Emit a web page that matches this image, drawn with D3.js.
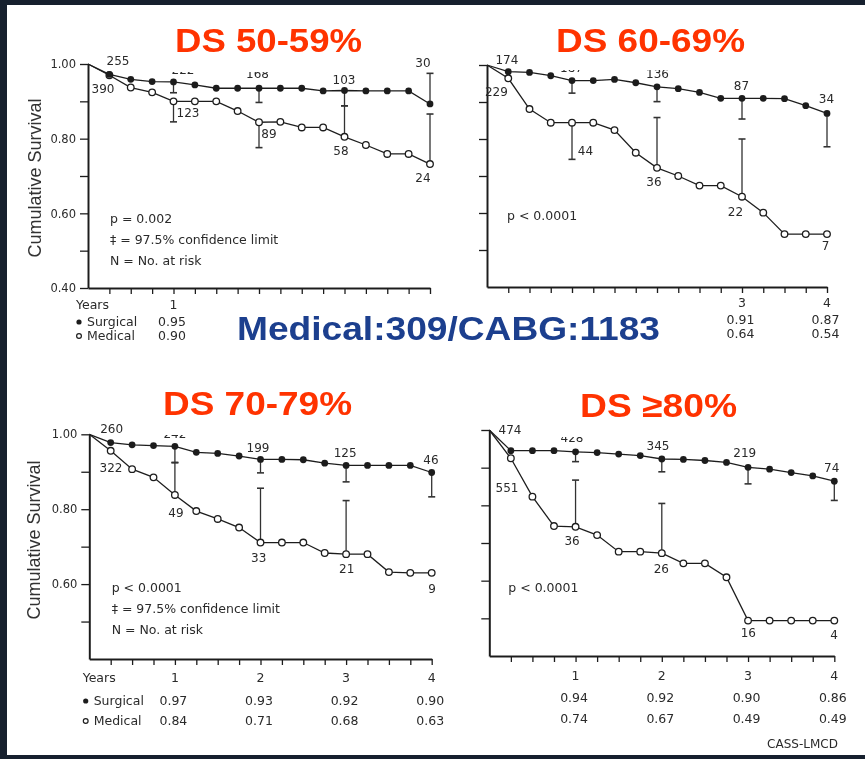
<!DOCTYPE html>
<html>
<head>
<meta charset="utf-8">
<script src="https://cdn.jsdelivr.net/npm/d3@7"></script>
<style>
  html, body { margin: 0; padding: 0; background: #16202e; }
  svg { display: block; }
</style>
</head>
<body>
<svg id="chart" width="865" height="759"></svg>
<script>
// Follow-up times in years (quarterly)
const times = [0.25, 0.5, 0.75, 1, 1.25, 1.5, 1.75, 2, 2.25, 2.5, 2.75, 3, 3.25, 3.5, 3.75, 4];

// Cumulative survival, DS 50-59%
const ds50Surgical = [0.972, 0.959, 0.953, 0.952, 0.944, 0.935, 0.935, 0.935, 0.935, 0.935, 0.928, 0.929, 0.928, 0.928, 0.928, 0.893];
const ds50Medical  = [0.970, 0.937, 0.924, 0.900, 0.900, 0.900, 0.874, 0.844, 0.845, 0.830, 0.830, 0.805, 0.783, 0.759, 0.759, 0.732];
// Cumulative survival, DS 60-69%
const ds60Surgical = [0.982, 0.980, 0.971, 0.958, 0.958, 0.961, 0.952, 0.941, 0.936, 0.926, 0.910, 0.910, 0.910, 0.909, 0.890, 0.869];
const ds60Medical  = [0.964, 0.881, 0.844, 0.844, 0.844, 0.824, 0.763, 0.722, 0.700, 0.674, 0.674, 0.644, 0.601, 0.543, 0.543, 0.543];
// Cumulative survival, DS 70-79%
const ds70Surgical = [0.978, 0.972, 0.970, 0.968, 0.952, 0.949, 0.942, 0.933, 0.933, 0.932, 0.923, 0.917, 0.917, 0.917, 0.917, 0.898];
const ds70Medical  = [0.956, 0.907, 0.885, 0.838, 0.795, 0.774, 0.751, 0.711, 0.711, 0.711, 0.683, 0.680, 0.680, 0.632, 0.630, 0.630];
// Cumulative survival, DS >= 80%
const ds80Surgical = [0.945, 0.945, 0.945, 0.942, 0.940, 0.936, 0.932, 0.923, 0.922, 0.919, 0.914, 0.901, 0.896, 0.887, 0.878, 0.864];
const ds80Medical  = [0.925, 0.823, 0.745, 0.743, 0.721, 0.677, 0.677, 0.673, 0.646, 0.646, 0.609, 0.494, 0.494, 0.494, 0.494, 0.494];

// 97.5% confidence limits: [year, series, limit]
const ds50Limits = [[1, "s", 0.923], [1, "m", 0.845], [2, "s", 0.897], [2, "m", 0.776], [3, "s", 0.888], [3, "m", 0.888], [4, "s", 0.975], [4, "m", 0.866]];
const ds60Limits = [[1, "s", 0.924], [1, "m", 0.745], [2, "s", 0.901], [2, "m", 0.858], [3, "s", 0.854], [3, "m", 0.800], [4, "s", 0.779]];
const ds70Limits = [[1, "s", 0.925], [1, "m", 0.924], [2, "s", 0.897], [2, "m", 0.856], [3, "s", 0.873], [3, "m", 0.823], [4, "s", 0.833]];
const ds80Limits = [[1, "s", 0.916], [1, "m", 0.867], [2, "s", 0.889], [2, "m", 0.805], [3, "s", 0.857], [4, "s", 0.813]];

// Number at risk: [count, series, year]
const ds50AtRisk = [["255", "s", 0.25], ["390", "m", 0.25], ["222", "s", 1], ["168", "s", 2], ["103", "s", 3], ["30", "s", 4], ["123", "m", 1], ["89", "m", 2], ["58", "m", 3], ["24", "m", 4]];
const ds60AtRisk = [["174", "s", 0.25], ["229", "m", 0.25], ["187", "s", 1], ["136", "s", 2], ["87", "s", 3], ["34", "s", 4], ["44", "m", 1], ["36", "m", 2], ["22", "m", 3], ["7", "m", 4]];
const ds70AtRisk = [["260", "s", 0.25], ["322", "m", 0.25], ["242", "s", 1], ["199", "s", 2], ["125", "s", 3], ["46", "s", 4], ["49", "m", 1], ["33", "m", 2], ["21", "m", 3], ["9", "m", 4]];
const ds80AtRisk = [["474", "s", 0], ["428", "s", 1], ["345", "s", 2], ["219", "s", 3], ["74", "s", 4], ["551", "m", 0.25], ["36", "m", 1], ["26", "m", 2], ["16", "m", 3], ["4", "m", 4]];

// Survival tables under each panel
const ds50TableYears = [1],          ds50TableSurgical = ["0.95"], ds50TableMedical = ["0.90"];
const ds60TableYears = [3, 4],       ds60TableSurgical = ["0.91", "0.87"], ds60TableMedical = ["0.64", "0.54"];
const ds70TableYears = [1, 2, 3, 4], ds70TableSurgical = ["0.97", "0.93", "0.92", "0.90"], ds70TableMedical = ["0.84", "0.71", "0.68", "0.63"];
const ds80TableYears = [1, 2, 3, 4], ds80TableSurgical = ["0.94", "0.92", "0.90", "0.86"], ds80TableMedical = ["0.74", "0.67", "0.49", "0.49"];

const titles = ["DS 50-59%", "DS 60-69%", "DS 70-79%", "DS \u226580%"];
const notes = [
  ["p = 0.002", "\u2021 = 97.5% confidence limit", "N = No. at risk"],
  ["p < 0.0001"],
  ["p < 0.0001", "\u2021 = 97.5% confidence limit", "N = No. at risk"],
  ["p < 0.0001"]
];
const yTickValues = [0.5, 0.6, 0.7, 0.8, 0.9, 1.0];
const yLabelValues = [1.0, 0.8, 0.6, 0.4];
const headline = "Medical:309/CABG:1183";
const sourceNote = "CASS-LMCD";

const panels = [
  { surgical: ds50Surgical, medical: ds50Medical, limits: ds50Limits, atRisk: ds50AtRisk,
    tableYears: ds50TableYears, tableSurgical: ds50TableSurgical, tableMedical: ds50TableMedical },
  { surgical: ds60Surgical, medical: ds60Medical, limits: ds60Limits, atRisk: ds60AtRisk,
    tableYears: ds60TableYears, tableSurgical: ds60TableSurgical, tableMedical: ds60TableMedical },
  { surgical: ds70Surgical, medical: ds70Medical, limits: ds70Limits, atRisk: ds70AtRisk,
    tableYears: ds70TableYears, tableSurgical: ds70TableSurgical, tableMedical: ds70TableMedical },
  { surgical: ds80Surgical, medical: ds80Medical, limits: ds80Limits, atRisk: ds80AtRisk,
    tableYears: ds80TableYears, tableSurgical: ds80TableSurgical, tableMedical: ds80TableMedical }
];

// Layout of each panel (pixels)
const layout = [
  { x0: 88, x4: 430, yTop: 64, yBottom: 288, yLabels: true, show040: true, axisTitle: [41, 178],
    noteX: 110, noteY: 223, rowLabels: true, rowX: 76, yearsY: 309, surgY: 326, medY: 340,
    riskOffsets: [[8.6, -9.5], [-6.4, 17.5], [9.5, -8], [-1.5, -10.3], [-0.5, -6.2], [-7, -36.7], [14.5, 16], [10, 16.1], [-3.5, 18.2], [-7, 17.6]],
    title: { cx: 268.5, y: 52, w: 187, box: [165, 8, 208, 64] } },
  { x0: 487, x4: 827, yTop: 65, yBottom: 287, yLabels: false, show040: false,
    noteX: 507, noteY: 220, rowLabels: false, yearsY: 307, surgY: 324, medY: 338,
    riskOffsets: [[-1.3, -7.7], [-11.8, 17.7], [-0.5, -8.8], [0.5, -9.1], [-0.5, -8.3], [-0.5, -10.2], [13.5, 32.3], [-3, 17.8], [-6.5, 19.3], [-1.5, 15.9]],
    title: { cx: 650.5, y: 52, w: 189, box: [545, 8, 210, 62] } },
  { x0: 89.3, x4: 431.7, yTop: 434.3, yBottom: 659, yLabels: true, show040: false, axisTitle: [40, 540],
    noteX: 111.7, noteY: 592, rowLabels: true, rowX: 82.7, yearsY: 682, surgY: 705, medY: 725,
    riskOffsets: [[1, -9.8], [0.3, 20.9], [0, -8], [-2.5, -7.7], [-1, -8.7], [-0.7, -8.5], [1, 21.7], [-1.8, 19.2], [0.6, 18.6], [0.3, 19.8]],
    title: { cx: 257.5, y: 415, w: 189, box: [150, 372, 215, 63] } },
  { x0: 489.3, x4: 834.3, yTop: 430, yBottom: 656, yLabels: false, show040: false,
    noteX: 508.3, noteY: 592, rowLabels: false, yearsY: 680, surgY: 702, medY: 723,
    riskOffsets: [[20.7, 4.3], [-3.5, -10.1], [-3.8, -9], [-3.3, -10], [-2.6, -9.5], [-3.9, 33.5], [-3.5, 18.2], [-0.5, 19.5], [0.3, 16.7], [-0.3, 18.7]],
    title: { cx: 658.5, y: 417, w: 157, box: [555, 372, 195, 65] } }
];

const INK = "#1e1e1e";
const TEXT = "#2a2a2a";
const SMALL_FONT = "'DejaVu Sans', sans-serif";

const svg = d3.select("#chart");

// white slide area inside the dark frame
svg.append("rect").attr("x", 7).attr("y", 5).attr("width", 858).attr("height", 750).attr("fill", "#ffffff");

const defs = svg.append("defs");
defs.append("filter").attr("id", "soft").attr("x", "-5%").attr("y", "-5%").attr("width", "110%").attr("height", "110%")
  .append("feGaussianBlur").attr("stdDeviation", 0.4);

function drawPanel(p, L) {
  const g = svg.append("g").attr("filter", "url(#soft)");
  const x = d3.scaleLinear().domain([0, 4]).range([L.x0, L.x4]);
  const y = d3.scaleLinear().domain([0.4, 1]).range([L.yBottom, L.yTop]);
  const valueAt = (series, t) => t === 0 ? 1 : (series === "s" ? p.surgical : p.medical)[times.indexOf(t)];

  // y axis
  const ticks = L.show040 ? [0.4].concat(yTickValues) : yTickValues;
  const yAxis = g.append("g").attr("transform", `translate(${L.x0},0)`)
    .call(d3.axisLeft(y).tickValues(ticks).tickSize(8).tickSizeOuter(0).tickPadding(4)
      .tickFormat(v => L.yLabels && yLabelValues.some(u => Math.abs(u - v) < 1e-6) ? d3.format(".2f")(v) : ""));
  yAxis.select(".domain").attr("stroke", INK).attr("stroke-width", 2);
  yAxis.selectAll(".tick line").attr("stroke", INK).attr("stroke-width", 1.3);
  yAxis.selectAll(".tick text").attr("fill", TEXT).attr("font-family", SMALL_FONT).attr("font-size", 11.5);

  // x axis (quarter-year ticks)
  const xAxis = g.append("g").attr("transform", `translate(0,${L.yBottom})`)
    .call(d3.axisBottom(x).tickValues(times).tickSize(6).tickSizeOuter(0).tickFormat(""));
  xAxis.select(".domain").attr("stroke", INK).attr("stroke-width", 1.8);
  xAxis.selectAll(".tick line").attr("stroke", INK).attr("stroke-width", 1.3);

  // y axis title
  if (L.axisTitle) {
    g.append("text")
      .attr("transform", `translate(${L.axisTitle[0]},${L.axisTitle[1]}) rotate(-90)`)
      .attr("text-anchor", "middle")
      .attr("font-family", "'Liberation Sans', Arial, sans-serif")
      .attr("font-size", 18)
      .attr("fill", "#333")
      .text("Cumulative Survival");
  }

  // confidence limit bars
  p.limits.forEach(([t, s, lim]) => {
    const v = valueAt(s, t);
    g.append("line").attr("x1", x(t)).attr("x2", x(t)).attr("y1", y(v)).attr("y2", y(lim))
      .attr("stroke", "#333").attr("stroke-width", 1.3);
    g.append("line").attr("x1", x(t) - 3.5).attr("x2", x(t) + 3.5).attr("y1", y(lim)).attr("y2", y(lim))
      .attr("stroke", "#333").attr("stroke-width", 1.6);
  });

  // survival curves
  const line = d3.line().x(d => x(d[0])).y(d => y(d[1]));
  const pts = vals => [[0, 1]].concat(times.map((t, i) => [t, vals[i]]));
  g.append("path").datum(pts(p.medical)).attr("d", line).attr("fill", "none").attr("stroke", INK).attr("stroke-width", 1.3);
  g.append("path").datum(pts(p.surgical)).attr("d", line).attr("fill", "none").attr("stroke", INK).attr("stroke-width", 1.3);

  g.selectAll(".med").data(p.medical).join("circle")
    .attr("cx", (d, i) => x(times[i])).attr("cy", d => y(d)).attr("r", 3.3)
    .attr("fill", "#fff").attr("stroke", INK).attr("stroke-width", 1.3);
  g.selectAll(".surg").data(p.surgical).join("circle")
    .attr("cx", (d, i) => x(times[i])).attr("cy", d => y(d)).attr("r", 3.4)
    .attr("fill", INK);

  // numbers at risk
  p.atRisk.forEach(([n, s, t], i) => {
    const [dx, dy] = L.riskOffsets[i];
    g.append("text").attr("x", x(t) + dx).attr("y", y(valueAt(s, t)) + dy)
      .attr("text-anchor", "middle").attr("font-family", SMALL_FONT).attr("font-size", 12)
      .attr("fill", TEXT).text(n);
  });

  // notes
  g.selectAll(".note").data(notes[panels.indexOf(p)]).join("text")
    .attr("x", L.noteX).attr("y", (d, i) => L.noteY + i * 21)
    .attr("font-family", SMALL_FONT).attr("font-size", 12.5).attr("fill", TEXT)
    .text(d => d);

  // survival table
  const tableText = (tx, ty, s, anchor) => g.append("text").attr("x", tx).attr("y", ty)
    .attr("text-anchor", anchor || "middle").attr("font-family", SMALL_FONT).attr("font-size", 12.5)
    .attr("fill", TEXT).text(s);
  if (L.rowLabels) {
    tableText(L.rowX, L.yearsY, "Years", "start");
    g.append("circle").attr("cx", L.rowX + 3).attr("cy", L.surgY - 4).attr("r", 2.6).attr("fill", INK);
    tableText(L.rowX + 11, L.surgY, "Surgical", "start");
    g.append("circle").attr("cx", L.rowX + 3).attr("cy", L.medY - 4).attr("r", 2.4).attr("fill", "#fff").attr("stroke", INK).attr("stroke-width", 1.2);
    tableText(L.rowX + 11, L.medY, "Medical", "start");
  }
  p.tableYears.forEach((yr, i) => {
    tableText(x(yr), L.yearsY, String(yr));
    tableText(x(yr) - 1.5, L.surgY, p.tableSurgical[i]);
    tableText(x(yr) - 1.5, L.medY, p.tableMedical[i]);
  });
}

panels.forEach((p, i) => drawPanel(p, layout[i]));

// panel titles on white plates
layout.forEach((L, i) => {
  const b = L.title.box;
  svg.append("rect").attr("x", b[0]).attr("y", b[1]).attr("width", b[2]).attr("height", b[3]).attr("fill", "#fff");
  svg.append("text").attr("x", L.title.cx).attr("y", L.title.y).attr("text-anchor", "middle")
    .attr("font-family", "'Liberation Sans', Arial, sans-serif").attr("font-weight", "bold")
    .attr("font-size", 34).attr("fill", "#ff3300")
    .attr("textLength", L.title.w).attr("lengthAdjust", "spacingAndGlyphs")
    .text(titles[i]);
});

// headline across the middle
svg.append("text").attr("x", 448.5).attr("y", 340).attr("text-anchor", "middle")
  .attr("font-family", "'Liberation Sans', Arial, sans-serif").attr("font-weight", "bold")
  .attr("font-size", 34).attr("fill", "#1c3f8e")
  .attr("textLength", 423).attr("lengthAdjust", "spacingAndGlyphs")
  .text(headline);

// source note
svg.append("text").attr("x", 802.5).attr("y", 748).attr("text-anchor", "middle")
  .attr("font-family", SMALL_FONT).attr("font-size", 12).attr("fill", TEXT)
  .attr("filter", "url(#soft)")
  .text(sourceNote);
</script>
</body>
</html>
